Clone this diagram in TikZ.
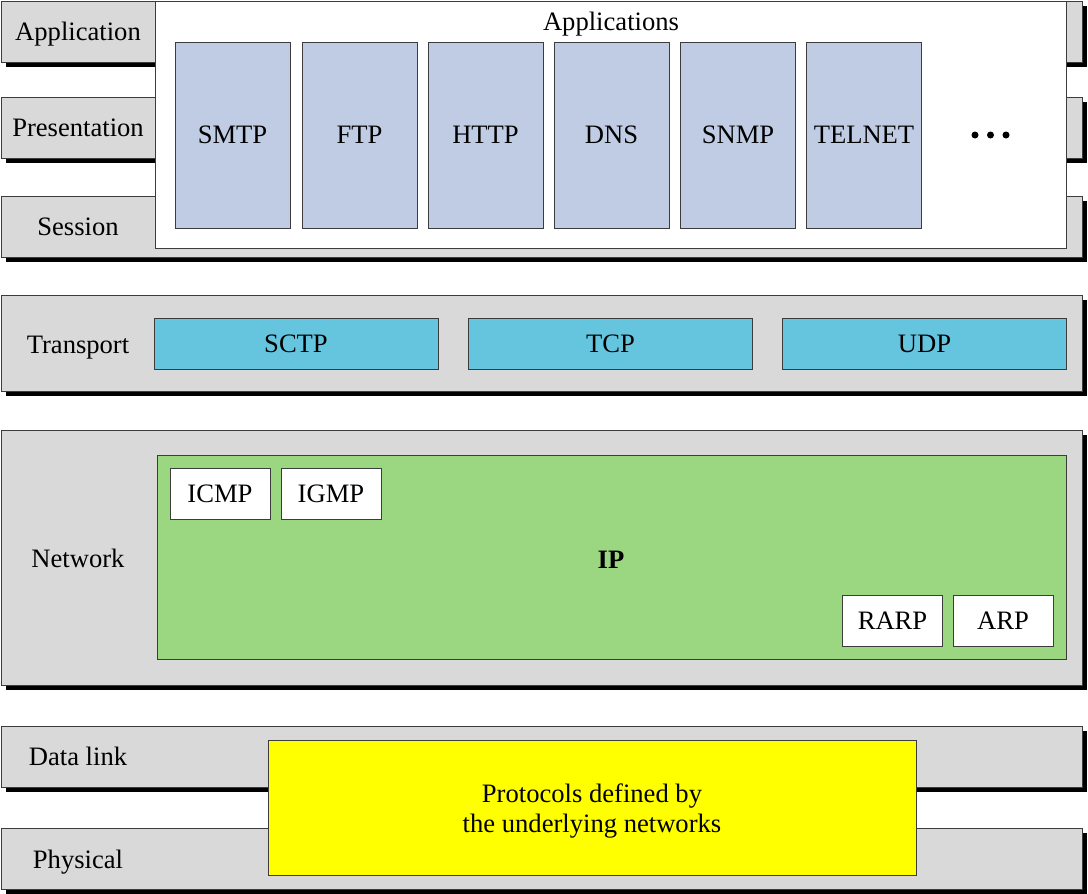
\documentclass[tikz,border=0pt]{standalone}
\usepackage{fontspec}
\setmainfont{Liberation Serif}
\usetikzlibrary{shadows}
\definecolor{bandgray}{RGB}{217,217,217}
\definecolor{appblue}{RGB}{192,204,228}
\definecolor{tpcyan}{RGB}{102,197,222}
\definecolor{ipgreen}{RGB}{155,214,129}
\definecolor{pyellow}{RGB}{255,255,0}
\definecolor{edge}{RGB}{60,60,60}
\begin{document}
\begin{tikzpicture}[x=1pt,y=-1pt,
  every node/.style={font=\fontsize{26.6}{30}\selectfont, inner sep=0pt, outer sep=0pt},
  band/.style={draw=edge, line width=0.8pt, fill=bandgray, minimum width=1081pt,
    drop shadow={shadow xshift=4.5pt, shadow yshift=-4.5pt, fill=black, opacity=1}},
  lbl/.style={anchor=center, text depth=0pt},
  box/.style={draw=edge, line width=0.8pt},
  appbox/.style={box, fill=appblue, minimum width=115pt, minimum height=186pt},
  tpbox/.style={box, fill=tpcyan, minimum width=284pt, minimum height=51pt},
  smallbox/.style={box, fill=white, minimum width=100pt, minimum height=51pt},
  dotnode/.style={circle, fill=black, minimum size=7pt}
]
\useasboundingbox (0,0) rectangle (1088,894);
% layer bands
\node[band, minimum height=61pt] (bApp) at (541.5,31.5) {};
\node[band, minimum height=61pt] (bPres) at (541.5,127.5) {};
\node[band, minimum height=61pt] (bSess) at (541.5,226.5) {};
\node[band, minimum height=96pt] (bTrans) at (541.5,343) {};
\node[band, minimum height=255pt] (bNet) at (541.5,557.5) {};
\node[band, minimum height=61pt] (bData) at (541.5,756.5) {};
\node[band, minimum height=61pt] (bPhys) at (541.5,858.5) {};
% layer labels
\node[lbl] (lApp) at (78,31) {Application};
\node[lbl] (lPres) at (78,128) {Presentation};
\node[lbl] (lSess) at (78,227) {Session};
\node[lbl] (lTrans) at (78,345) {Transport};
\node[lbl] (lNet) at (78,558) {Network};
\node[lbl] (lData) at (78,756) {Data link};
\node[lbl] (lPhys) at (78,859) {Physical};
% applications
\node[box, fill=white, minimum width=911pt, minimum height=247pt] (apps) at (610.5,124.5) {};
\node[lbl] (appsLabel) at (611,21) {Applications};
\node[appbox] (smtp) at (232.5,135) {SMTP};
\node[appbox] (ftp) at (359.5,135) {FTP};
\node[appbox] (http) at (485.5,135) {HTTP};
\node[appbox] (dns) at (611.5,135) {DNS};
\node[appbox] (snmp) at (738,135) {SNMP};
\node[appbox] (telnet) at (864,135) {TELNET};
\node[dotnode] (dot1) at (975,135) {};
\node[dotnode] (dot2) at (990.5,135) {};
\node[dotnode] (dot3) at (1006,135) {};
% transport
\node[tpbox] (sctp) at (296,343.5) {SCTP};
\node[tpbox] (tcp) at (610.5,343.5) {TCP};
\node[tpbox] (udp) at (924.5,343.5) {UDP};
% network
\node[box, fill=ipgreen, minimum width=909pt, minimum height=204pt] (ipbox) at (611.5,557) {};
\node[lbl, font=\fontsize{26.6}{30}\selectfont\bfseries] (ip) at (611,560) {IP};
\node[smallbox] (icmp) at (220,493.5) {ICMP};
\node[smallbox] (igmp) at (331,493.5) {IGMP};
\node[smallbox] (rarp) at (892.5,620.5) {RARP};
\node[smallbox] (arp) at (1003,620.5) {ARP};
% underlying networks
\node[box, fill=pyellow, minimum width=648pt, minimum height=135pt] (under) at (592,807.5) {};
\node[align=center] (underText) at (592,811) {Protocols defined by\\the underlying networks};
\end{tikzpicture}
\end{document}
